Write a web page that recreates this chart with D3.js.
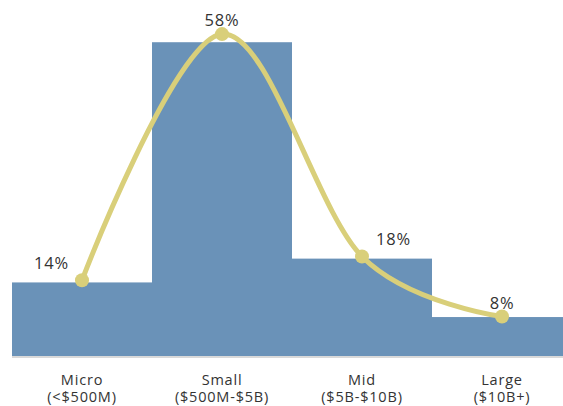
<!DOCTYPE html>
<html>
<head>
<meta charset="utf-8">
<script src="https://cdn.jsdelivr.net/npm/d3@7"></script>
<style>
    body { margin: 0; background: #fff; }
    text { font-family: "Open Sans", sans-serif; fill: #333; }
</style>
</head>
<body>
<div id="chart"></div>
<script>
//categories and their size ranges
const categories = ["Micro", "Small", "Mid", "Large"];
const capRanges = ["(<$500M)", "($500M-$5B)", "($5B-$10B)", "($10B+)"];

//bar values (%)
const barValues = [13.6, 58, 18, 7.2];
//line values (%)
const lineValues = [14, 59.5, 18.4, 7.3];
//data labels on the line
const valueLabels = ["14%", "58%", "18%", "8%"];
//where each label sits relative to its point
const labelSide = ["left", "top", "right", "top"];

const width = 563;
const height = 406;
const margin = { top: 0, right: -9, bottom: 50, left: 12 };
const baseY = height - margin.bottom;

const svg = d3
    .select("#chart")
    .append("svg")
    .attr("width", width)
    .attr("height", height);

const x = d3
    .scaleBand()
    .domain(categories)
    .range([margin.left, width - margin.right])
    .padding(0);

const y = d3.scaleLinear().domain([0, 60]).range([baseY, baseY - 60 * 5.41]);

//bars
svg.selectAll("rect.bar")
    .data(categories)
    .join("rect")
    .attr("class", "bar")
    .attr("x", (d) => x(d))
    .attr("width", x.bandwidth())
    .attr("y", (d, i) => y(barValues[i]))
    .attr("height", (d, i) => y(0) - y(barValues[i]))
    .attr("fill", "#6a92b8");

//x axis
const xAxis = svg
    .append("g")
    .attr("transform", `translate(0,${baseY})`)
    .call(d3.axisBottom(x).tickSize(0).tickFormat(""));

xAxis.select(".domain")
    .attr("stroke", "#d9d9d9")
    .attr("stroke-width", 2)
    .attr("d", `M${margin.left},1H${width}`);

//two-line tick labels, each line its own text
xAxis.selectAll(".tick").each(function (d, i) {
    const g = d3.select(this);
    g.select("text").remove();
    [categories[i], capRanges[i]].forEach((s, k) => {
        g.append("text")
            .attr("x", 0)
            .attr("y", 29 + k * 17)
            .attr("text-anchor", "middle")
            .style("font-size", "14.5px")
            .style("letter-spacing", "0.8px")
            .attr("fill", "#333")
            .text(s);
    });
});

//line
const cx = (d) => x(d) + x.bandwidth() / 2;
const line = d3
    .line()
    .x((d) => cx(d))
    .y((d, i) => y(lineValues[i]))
    .curve(d3.curveCardinal.tension(0));

svg.append("path")
    .datum(categories)
    .attr("d", line)
    .attr("fill", "none")
    .attr("stroke", "#d9cf7a")
    .attr("stroke-width", 5)
    .attr("stroke-linecap", "round");

svg.selectAll("circle.dot")
    .data(categories)
    .join("circle")
    .attr("class", "dot")
    .attr("cx", (d) => cx(d))
    .attr("cy", (d, i) => y(lineValues[i]))
    .attr("r", 7)
    .attr("fill", "#d9cf7a");

//value labels
svg.selectAll("text.value")
    .data(categories)
    .join("text")
    .attr("class", "value")
    .style("font-size", "16.5px")
    .style("letter-spacing", "0.8px")
    .attr("text-anchor", (d, i) =>
        labelSide[i] == "left" ? "end" : labelSide[i] == "right" ? "start" : "middle"
    )
    .attr("x", (d, i) => {
        if (labelSide[i] == "left") return cx(d) - 13;
        if (labelSide[i] == "right") return cx(d) + 14;
        return cx(d);
    })
    .attr("y", (d, i) => {
        const py = y(lineValues[i]);
        return labelSide[i] == "top" ? py - 8 : py - 11;
    })
    .text((d, i) => valueLabels[i]);
</script>
</body>
</html>
